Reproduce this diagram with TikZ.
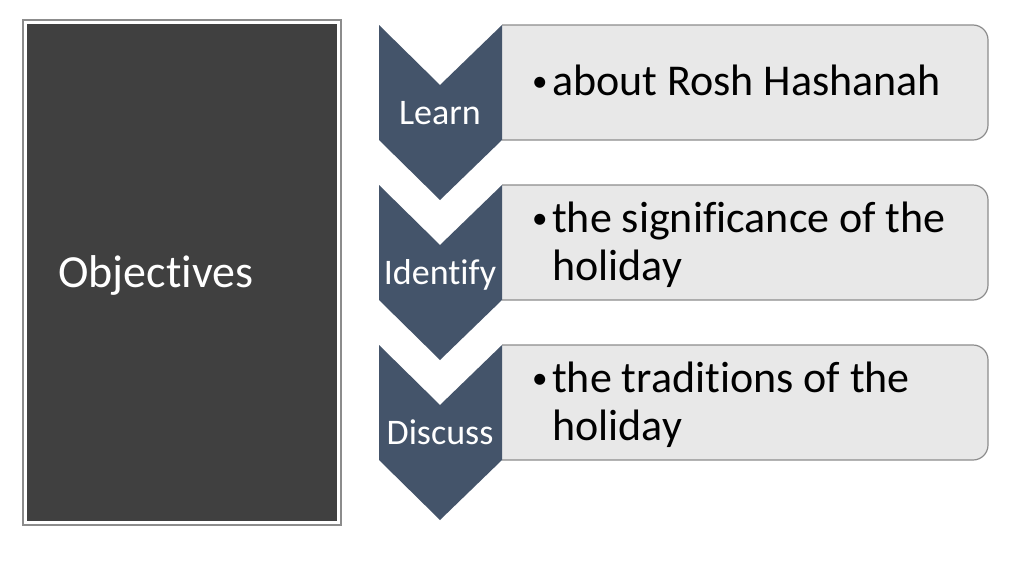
\documentclass[tikz,border=0pt]{standalone}
\usepackage{fontspec}
\setmainfont{Carlito}[Ligatures={NoCommon}]
\usetikzlibrary{positioning}

\definecolor{panelgray}{HTML}{404040}
\definecolor{chevblue}{HTML}{44546A}
\definecolor{boxgray}{HTML}{E8E8E8}
\definecolor{edgegray}{HTML}{8C8C8C}

\newcommand{\itembullet}{\makebox[23pt][l]{\hspace{3pt}\raisebox{4pt}{\fontsize{31}{31}\selectfont\textbullet}}}

\tikzset{
  chevron/.style={fill=chevblue},
  itembox/.style={fill=boxgray, draw=edgegray, line width=1.2, rounded corners=15},
  steplabel/.style={text=white, font=\fontsize{36}{40}\selectfont, anchor=base, inner sep=0},
  itemtext/.style={font=\fontsize{44}{48}\selectfont, anchor=base west, align=left, inner sep=0},
}

\begin{document}
\begin{tikzpicture}[x=1pt,y=-1pt]
\useasboundingbox (0,0) rectangle (1024,576);
% Objectives panel
\draw[edgegray, line width=1.5, fill=white] (23,20) rectangle (341,525);
\fill[panelgray] (27,24) rectangle (337,521);
\node[text=white, font=\fontsize{46}{52}\selectfont, anchor=base west, inner sep=0] (objectives) at (58,287) {Objectives};

% Chevrons with their boxes
\foreach \i/\lab/\name in {0/Learn/learn, 1/Identify/identify, 2/Discuss/discuss} {
  \pgfmathsetmacro{\ytop}{25+160*\i}
  % box, left end hidden
  \begin{scope}
    \clip (502,\ytop-3) rectangle (995,\ytop+118);
    \draw[itembox] (470,\ytop) rectangle (988,\ytop+115);
  \end{scope}
  % chevron
  \fill[chevron] (379,\ytop) -- (440,\ytop+60) -- (502,\ytop) -- (502,\ytop+115)
    -- (440,\ytop+175) -- (379,\ytop+115) -- cycle;
  \node[steplabel] (\name) at (440,\ytop+99) {\lab};
}

% Item texts (base = last line)
\node[itemtext] (learnitem) at (529,95) {\itembullet about Rosh Hashanah};
\node[itemtext] (identifyitem) at (529,280) {\itembullet the significance of the\\\hspace*{23pt}holiday};
\node[itemtext] (discussitem) at (529,440) {\itembullet the traditions of the\\\hspace*{23pt}holiday};
\end{tikzpicture}
\end{document}
